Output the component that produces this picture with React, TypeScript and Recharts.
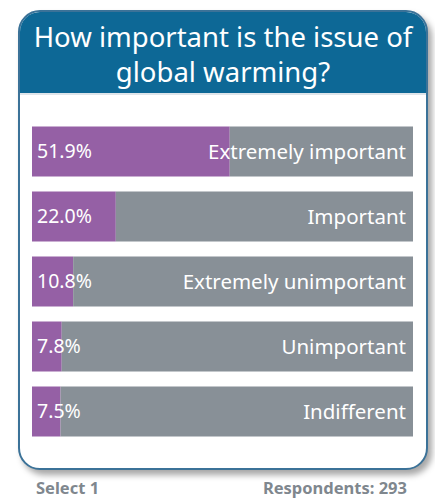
import { BarChart, Bar, XAxis, YAxis, LabelList } from 'recharts';

const answers = ['Extremely important', 'Important', 'Extremely unimportant', 'Unimportant', 'Indifferent'];
const shares = [51.9, 22.0, 10.8, 7.8, 7.5];

const title = ['How important is the issue of', 'global warming?'];
const selectNote = 'Select 1';
const respondents = 293;

const FONT = '"Noto Sans", "DejaVu Sans", sans-serif';

const rows = answers.map((name, i) => ({
    name,
    value: shares[i],
    rest: 100 - shares[i],
}));

const footerStyle = {
    position: 'absolute' as const,
    top: 480,
    fontSize: 16.5,
    lineHeight: '16px',
    fontWeight: 700,
    color: '#7f878e',
};

export default function App() {
    return (
        <div style={{ position: 'absolute', left: 0, top: 0, width: 435, height: 500, background: '#fff', fontFamily: FONT, overflow: 'hidden' }}>
            <div
                style={{
                    position: 'absolute', left: 18, top: 10, width: 406, height: 456,
                    border: '2px solid #3b7298', borderRadius: 22, background: '#fff',
                    boxShadow: '4px 5px 6px rgba(0,0,0,0.35)', overflow: 'hidden',
                }}
            >
                <div
                    style={{
                        height: 83, background: '#0d6896', color: '#fff', textAlign: 'center',
                        fontSize: 27.5, lineHeight: '35px', paddingTop: 7, boxSizing: 'border-box',
                        borderBottom: '2px solid #dfe5ea', whiteSpace: 'nowrap',
                    }}
                >
                    {title.map(t => <div key={t}>{t}</div>)}
                </div>
            </div>
            <div style={{ position: 'absolute', left: 32, top: 119 }}>
                <BarChart
                    layout="vertical"
                    width={381}
                    height={325}
                    data={rows}
                    margin={{ top: 0, right: 0, bottom: 0, left: 0 }}
                    barCategoryGap={7.5}
                >
                    <XAxis type="number" domain={[0, 100]} hide />
                    <YAxis type="category" dataKey="name" hide />
                    <Bar dataKey="value" stackId="a" fill="#9560a5" isAnimationActive={false}>
                        <LabelList
                            dataKey="value"
                            position="insideLeft"
                            offset={5}
                            fill="#fff"
                            fontSize={19.5}
                            fontFamily={FONT}
                            formatter={(v: any) => `${Number(v).toFixed(1)}%`}
                        />
                    </Bar>
                    <Bar dataKey="rest" stackId="a" fill="#889097" isAnimationActive={false}>
                        <LabelList
                            dataKey="name"
                            position="insideRight"
                            offset={7}
                            fill="#fff"
                            fontSize={20.5}
                            fontFamily={FONT}
                        />
                    </Bar>
                </BarChart>
            </div>
            <div style={{ ...footerStyle, left: 36 }}>{selectNote}</div>
            <div style={{ ...footerStyle, right: 28 }}>{`Respondents: ${respondents}`}</div>
        </div>
    );
}
